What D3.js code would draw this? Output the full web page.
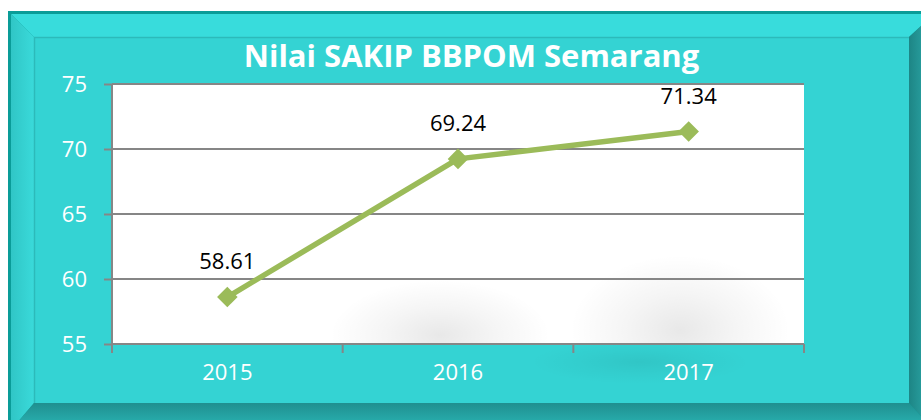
<!DOCTYPE html>
<html>
<head>
<meta charset="utf-8">
<script src="https://cdn.jsdelivr.net/npm/d3@7"></script>
<style>
  html, body { margin: 0; padding: 0; background: #fff; }
  svg { display: block; }
</style>
</head>
<body>
<svg width="921" height="420"></svg>
<script>
const years = ["2015", "2016", "2017"];
const scores = [58.61, 69.24, 71.34];
const yTicks = [55, 60, 65, 70, 75];
const title = "Nilai SAKIP BBPOM Semarang";

const width = 921;
const height = 420;
const plot = { left: 112, right: 804, top: 84, bottom: 344 };
const font = "'Open Sans', 'Liberation Sans', sans-serif";
const lineColor = "#9bbb59";
const gridColor = "#868686";

const svg = d3.select("svg");
const defs = svg.append("defs");

// frame gradients
const lg = defs.append("linearGradient").attr("id", "leftBevel")
  .attr("x1", 0).attr("x2", 1).attr("y1", 0).attr("y2", 0);
lg.append("stop").attr("offset", 0).attr("stop-color", "#30c6c6");
lg.append("stop").attr("offset", 1).attr("stop-color", "#3adada");

const bg = defs.append("linearGradient").attr("id", "bottomBevel")
  .attr("x1", 0).attr("x2", 0).attr("y1", 0).attr("y2", 1);
bg.append("stop").attr("offset", 0).attr("stop-color", "#1f8f8f");
bg.append("stop").attr("offset", 1).attr("stop-color", "#2bb8b8");

const rg = defs.append("linearGradient").attr("id", "rightBevel")
  .attr("x1", 0).attr("x2", 1).attr("y1", 0).attr("y2", 0);
rg.append("stop").attr("offset", 0).attr("stop-color", "#1d8585");
rg.append("stop").attr("offset", 1).attr("stop-color", "#2fb0b0");

const shadow = defs.append("radialGradient").attr("id", "blob");
shadow.append("stop").attr("offset", 0).attr("stop-color", "#000").attr("stop-opacity", 0.09);
shadow.append("stop").attr("offset", 0.5).attr("stop-color", "#000").attr("stop-opacity", 0.04);
shadow.append("stop").attr("offset", 1).attr("stop-color", "#000").attr("stop-opacity", 0);

defs.append("clipPath").attr("id", "plotClip")
  .append("rect")
    .attr("x", plot.left).attr("y", plot.top)
    .attr("width", plot.right - plot.left).attr("height", plot.bottom - plot.top);

// outer frame
const outer = { x0: 8, y0: 11, x1: 934, y1: 430 };
const inner = { x0: 34, y0: 37, x1: 909, y1: 403 };

svg.append("rect")
  .attr("x", outer.x0).attr("y", outer.y0)
  .attr("width", outer.x1 - outer.x0).attr("height", outer.y1 - outer.y0)
  .attr("fill", "#0a9c98");

const b = { x0: outer.x0 + 3, y0: outer.y0 + 3, x1: outer.x1, y1: outer.y1 };

svg.append("polygon") // top bevel
  .attr("points", [[b.x0, b.y0], [b.x1, b.y0], [inner.x1, inner.y0], [inner.x0, inner.y0]].join(" "))
  .attr("fill", "#38dcdc");
svg.append("polygon") // left bevel
  .attr("points", [[b.x0, b.y0], [inner.x0, inner.y0], [inner.x0, inner.y1], [b.x0, b.y1]].join(" "))
  .attr("fill", "url(#leftBevel)");
svg.append("polygon") // bottom bevel
  .attr("points", [[b.x0, b.y1], [inner.x0, inner.y1], [inner.x1, inner.y1], [b.x1, b.y1]].join(" "))
  .attr("fill", "url(#bottomBevel)");
svg.append("polygon") // right bevel
  .attr("points", [[b.x1, b.y0], [b.x1, b.y1], [inner.x1, inner.y1], [inner.x1, inner.y0]].join(" "))
  .attr("fill", "url(#rightBevel)");

svg.append("rect")
  .attr("x", inner.x0).attr("y", inner.y0)
  .attr("width", inner.x1 - inner.x0).attr("height", inner.y1 - inner.y0)
  .attr("fill", "#34d3d3");
svg.append("path")
  .attr("d", `M${inner.x0 + 0.5},${inner.y1}V${inner.y0 + 0.5}H${inner.x1}`)
  .attr("fill", "none").attr("stroke", "#2cbaba").attr("stroke-width", 1.5);

// scales
const x = d3.scaleBand().domain(years).range([plot.left, plot.right]);
const y = d3.scaleLinear().domain([55, 75]).range([plot.bottom, plot.top]);
const cx = d => x(d) + x.bandwidth() / 2;

// soft shade under the axis
svg.append("ellipse").attr("cx", 640).attr("cy", 362).attr("rx", 110).attr("ry", 22)
  .attr("fill", "url(#blob)").attr("opacity", 0.7);

// plot area
svg.append("rect")
  .attr("x", plot.left).attr("y", plot.top)
  .attr("width", plot.right - plot.left).attr("height", plot.bottom - plot.top)
  .attr("fill", "#fff");

// faint reflections in the plot
const blobs = svg.append("g").attr("clip-path", "url(#plotClip)");
blobs.append("ellipse").attr("cx", 440).attr("cy", 335).attr("rx", 110).attr("ry", 55).attr("fill", "url(#blob)");
blobs.append("ellipse").attr("cx", 680).attr("cy", 330).attr("rx", 110).attr("ry", 75).attr("fill", "url(#blob)");

// gridlines
svg.append("g")
  .selectAll("line")
  .data(yTicks.filter(d => d > 55))
  .join("line")
    .attr("x1", plot.left).attr("x2", plot.right)
    .attr("y1", d => y(d)).attr("y2", d => y(d))
    .attr("stroke", gridColor).attr("stroke-width", 2);

// y axis
const yAxis = svg.append("g")
  .attr("transform", `translate(${plot.left},0)`)
  .call(d3.axisLeft(y).tickValues(yTicks).tickSize(8).tickPadding(17));
yAxis.select(".domain").attr("stroke", gridColor).attr("stroke-width", 2)
  .attr("d", `M0,${plot.top}V${plot.bottom}`);
yAxis.selectAll(".tick line").attr("stroke", gridColor).attr("stroke-width", 2);
yAxis.selectAll(".tick text")
  .attr("fill", "#fff").attr("font-family", font).attr("font-size", 22);

// x axis
const xAxis = svg.append("g")
  .attr("transform", `translate(0,${plot.bottom})`)
  .call(d3.axisBottom(x).tickSize(0).tickPadding(20));
xAxis.select(".domain").attr("stroke", gridColor).attr("stroke-width", 2)
  .attr("d", `M${plot.left},0H${plot.right}`);
xAxis.selectAll(".tick text")
  .attr("fill", "#fff").attr("font-family", font).attr("font-size", 22);
xAxis.selectAll(".edge")
  .data([years[0]].concat(years))
  .join("line")
    .attr("class", "edge")
    .attr("x1", (d, i) => i === 0 ? x(d) : x(d) + x.bandwidth())
    .attr("x2", (d, i) => i === 0 ? x(d) : x(d) + x.bandwidth())
    .attr("y1", 0).attr("y2", 9)
    .attr("stroke", gridColor).attr("stroke-width", 2);

// series
const line = d3.line()
  .x((d, i) => cx(years[i]))
  .y(d => y(d));

svg.append("path")
  .datum(scores)
  .attr("d", line)
  .attr("fill", "none")
  .attr("stroke", lineColor)
  .attr("stroke-width", 5.5)
  .attr("stroke-linejoin", "round");

svg.append("g")
  .selectAll("path")
  .data(scores)
  .join("path")
    .attr("d", d3.symbol(d3.symbolDiamond2, 270))
    .attr("transform", (d, i) => `translate(${cx(years[i])},${y(d)})`)
    .attr("fill", lineColor);

svg.append("g")
  .selectAll("text")
  .data(scores)
  .join("text")
    .attr("x", (d, i) => cx(years[i]))
    .attr("y", d => y(d) - 28)
    .attr("text-anchor", "middle")
    .attr("font-family", font)
    .attr("font-size", 22)
    .attr("fill", "#000")
    .text(d => d.toFixed(2));

// title, fitted to its width in the reference
const t = svg.append("text")
  .attr("x", (inner.x0 + inner.x1) / 2)
  .attr("y", 67)
  .attr("text-anchor", "middle")
  .attr("font-family", font)
  .attr("font-weight", "bold")
  .attr("font-size", 31)
  .attr("fill", "#fff")
  .text(title);
const tw = t.node().getComputedTextLength();
if (tw > 460) t.attr("font-size", 31 * 460 / tw);
</script>
</body>
</html>
